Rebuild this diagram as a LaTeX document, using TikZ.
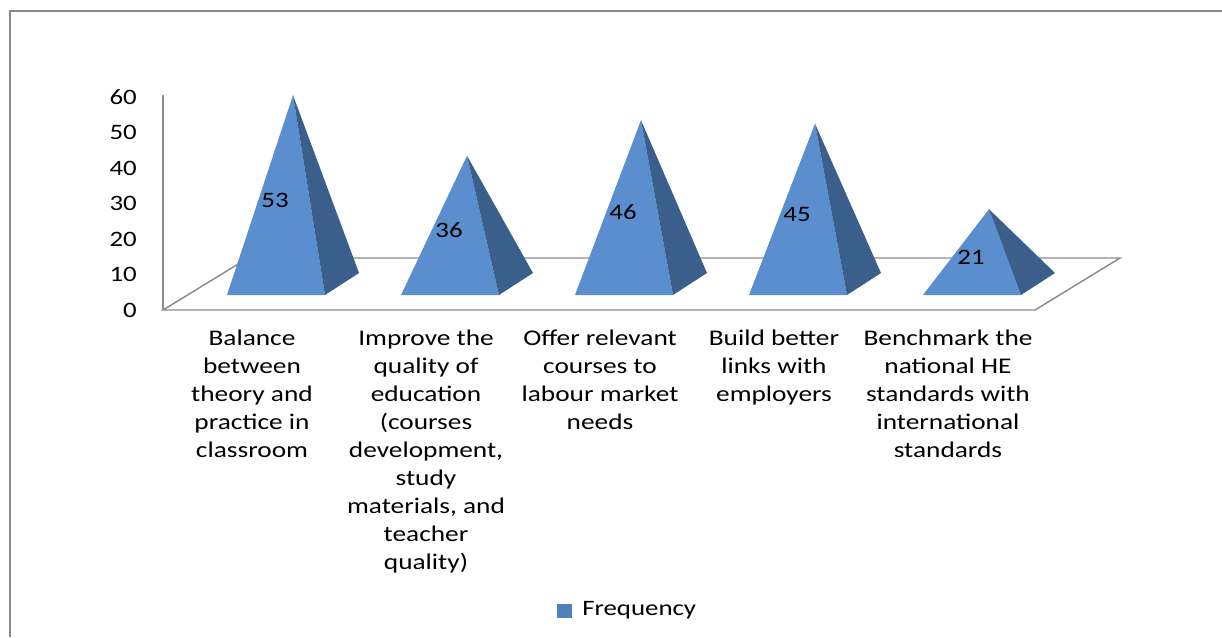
\documentclass[tikz,border=0pt]{standalone}
\usepackage{fontspec}
\setmainfont{Carlito}[FakeStretch=1.22]
\definecolor{frontblue}{HTML}{5A8ECF}
\definecolor{sideblue}{HTML}{3A5F8B}
\definecolor{legendblue}{HTML}{4F81BD}
\definecolor{axisgray}{HTML}{8C8C8C}
\definecolor{framegray}{HTML}{8A8A8A}
\tikzset{
  axisline/.style={draw=axisgray, line width=1.1pt},
  frameline/.style={draw=framegray, line width=1.8pt},
  frontface/.style={fill=frontblue},
  sideface/.style={fill=sideblue},
  ticklabel/.style={font=\fontsize{16.5}{18}\selectfont, anchor=east, inner sep=0pt},
  catlabel/.style={font=\fontsize{16.8}{21}\selectfont, align=center, anchor=north, inner sep=0pt},
  vallabel/.style={font=\fontsize{16.5}{18}\selectfont, inner sep=0pt},
  legendtext/.style={font=\fontsize{16.5}{18}\selectfont, anchor=west, inner sep=0pt},
  legendbox/.style={fill=legendblue, minimum width=11.25pt, minimum height=10.5pt, inner sep=0pt},
}
\begin{document}
\begin{tikzpicture}[x=0.75pt,y=-0.75pt]
\useasboundingbox (0,0) rectangle (1222,637);
\fill[white] (0,0) rectangle (1222,637);
% frame
\draw[frameline] (10,637) -- (10,11) -- (1222,11);
% axis and floor
\coordinate (axtop) at (163,95);
\coordinate (ffl) at (163,310);
\coordinate (ffr) at (1035,310);
\coordinate (fbr) at (1120,258);
\coordinate (fbl) at (248,258);
\draw[axisline] (axtop) -- (ffl);
\draw[axisline] (ffl) -- (ffr) -- (fbr) -- (fbl) -- cycle;
% tick labels
\foreach \k in {0,...,6} {
  \pgfmathtruncatemacro\tv{10*\k}
  \node[ticklabel] (t\k) at (137,{310-35.5*\k}) {\tv};
}
% pyramids
\foreach \i/\v in {0/53,1/36,2/46,3/45,4/21} {
  \pgfmathsetmacro\cx{293+174*\i}
  \pgfmathsetmacro\ay{284-3.5625*\v}
  \coordinate (fl\i) at (\cx-66,295);
  \coordinate (fr\i) at (\cx+32,295);
  \coordinate (br\i) at (\cx+66,273);
  \coordinate (ap\i) at (\cx,\ay);
  \fill[frontface] (fl\i) -- (fr\i) -- (ap\i) -- cycle;
  \fill[sideface] (fr\i) -- (br\i) -- (ap\i) -- cycle;
  \node[vallabel] (v\i) at (\cx-18,{(295+\ay)/2+5}) {\v};
}
% category labels
\node[catlabel] (c0) at (252,330) {Balance\\between\\theory and\\practice in\\classroom};
\node[catlabel] (c1) at (426,330) {Improve the\\quality of\\education\\(courses\\development,\\study\\materials, and\\teacher\\quality)};
\node[catlabel] (c2) at (600,330) {Offer relevant\\courses to\\labour market\\needs};
\node[catlabel] (c3) at (774,330) {Build better\\links with\\employers};
\node[catlabel] (c4) at (948,330) {Benchmark the\\national HE\\standards with\\international\\standards};
% legend
\node[legendbox] (lsq) at (564.5,611) {};
\node[legendtext] (ltx) at (582,610) {Frequency};
\end{tikzpicture}
\end{document}
